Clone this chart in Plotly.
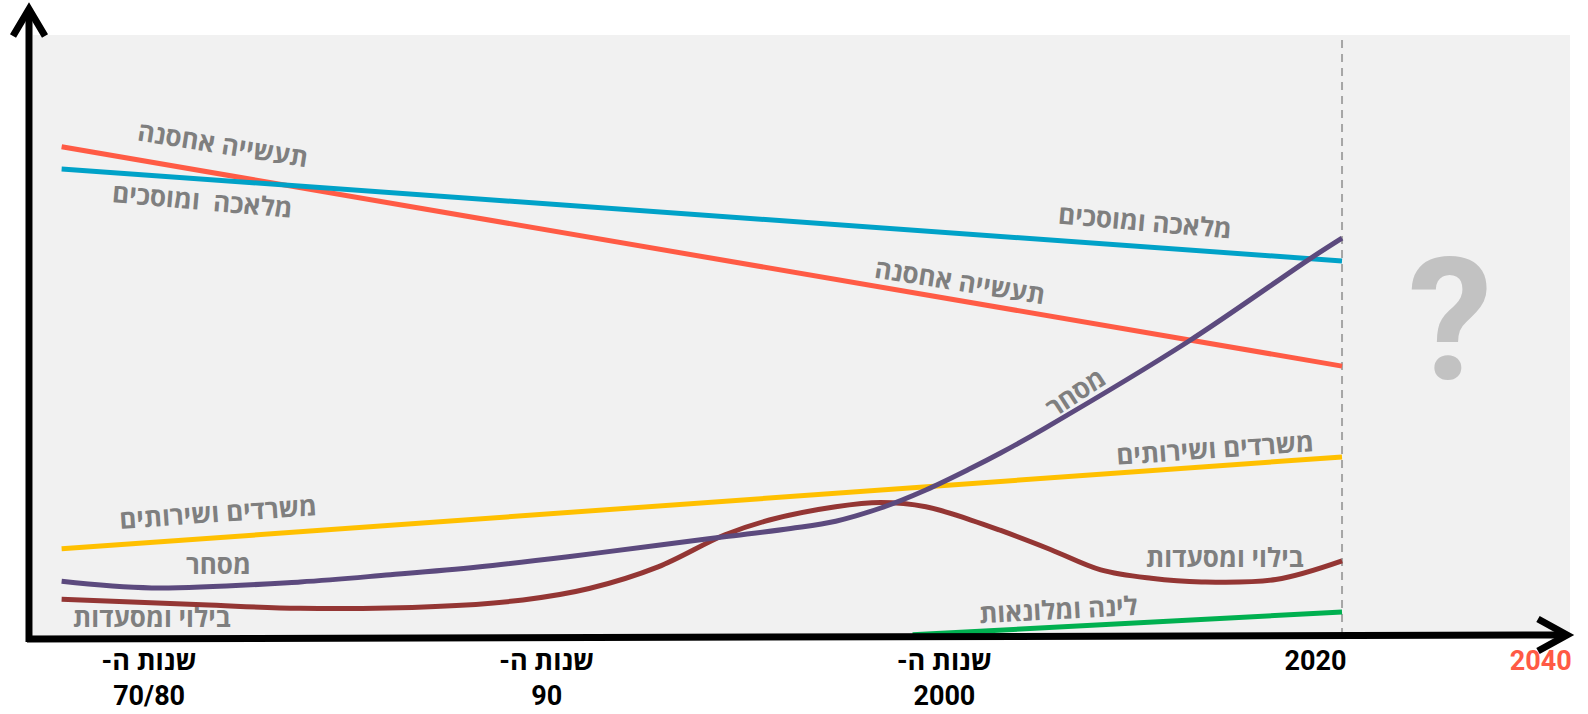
import plotly.graph_objects as go

# ---------------- data ----------------
RLM = "\u200f"
tick_years = [1975, 1990, 2005, 2019, 2027.5]
tick_labels = [f"שנות ה-{RLM}<br>70/80", f"שנות ה-{RLM}<br>90", f"שנות ה-{RLM}<br>2000", "2020",
               "<span style='color:#FF5A45'>2040</span>"]

red_years = [1971.7, 2020]
red_vals = [81.4, 44.9]          # תעשייה אחסנה

blue_years = [1971.7, 2020]
blue_vals = [77.7, 62.4]         # מלאכה ומוסכים

yellow_years = [1971.7, 2020]
yellow_vals = [14.5, 29.8]       # משרדים ושירותים

green_years = [2003.8, 2020]
green_vals = [0.2, 4.0]          # לינה ומלונאות

purple_years = [1971.7, 1975.1, 1980.7, 1984.1, 1987.4, 1990.8, 1994.2, 1996.7, 1999.2, 2000.9,
                2002.6, 2004.3, 2006.0, 2007.1, 2008.8, 2014.2, 2018.8, 2020.0]
purple_vals = [9.1, 8.0, 9.0, 10.2, 11.5, 13.2, 15.1, 16.5, 17.9, 19.1,
               21.3, 24.3, 27.9, 30.4, 34.6, 49.0, 62.8, 66.2]   # מסחר

maroon_years = [1971.7, 1977.0, 1980.7, 1985.8, 1989.1, 1991.6, 1994.2, 1996.7, 1998.4, 2000.9,
                2002.6, 2004.3, 2006.0, 2007.1, 2009.0, 2010.9, 2012.8, 2014.7, 2017.5, 2020.0]
maroon_vals = [6.1, 5.2, 4.6, 4.9, 6.0, 7.9, 11.5, 16.8, 19.3, 21.5,
               22.2, 21.5, 19.3, 17.6, 14.4, 11.0, 9.6, 9.0, 9.4, 12.5]   # בילוי ומסעדות

# labels: text, x(year), y(value), angle
label_texts = ["תעשייה אחסנה", "מלאכה  ומוסכים", "מלאכה ומוסכים", "תעשייה אחסנה", "מסחר",
               "משרדים ושירותים", "משרדים ושירותים", "מסחר", "בילוי ומסעדות",
               "בילוי ומסעדות", "לינה ומלונאות"]
label_x = [1977.8, 1977.0, 2012.55, 2005.6, 2009.95, 2015.2, 1977.6, 1977.6, 1975.1, 2015.6, 2009.3]
label_y = [81.9, 72.5, 69.1, 59.1, 40.6, 31.2, 20.7, 12.0, 3.2, 13.1, 4.5]
label_angle = [9, 5, 5, 9, -33, -4, -4, 0, 0, 0, -3]

# ---------------- figure ----------------
W, H = 1588, 714
ML, MR, MT, MB = 33, 18, 35, 78
PW, PH = W - ML - MR, H - MT - MB


def px(x):
    return (x - ML) / PW


def py(y):
    return (H - MB - y) / PH


fig = go.Figure()

series = [
    (red_years, red_vals, "#FF5B45", "linear"),
    (blue_years, blue_vals, "#00A2C8", "linear"),
    (yellow_years, yellow_vals, "#FFC000", "linear"),
    (green_years, green_vals, "#00B050", "linear"),
    (maroon_years, maroon_vals, "#943634", "spline"),
    (purple_years, purple_vals, "#5C4A7E", "spline"),
]
for xs, ys, col, shape in series:
    fig.add_trace(go.Scatter(x=xs, y=ys, mode="lines",
                             line=dict(color=col, width=5, shape=shape, smoothing=1),
                             hoverinfo="skip", showlegend=False))

shapes = []
# dashed 2020 line
shapes.append(dict(type="line", xref="x", yref="paper", x0=2020, x1=2020, y0=0, y1=1,
                   line=dict(color="#A6A6A6", width=2, dash="8px,6px"), layer="below"))
# y axis arrow
shapes.append(dict(type="line", xref="paper", yref="paper", x0=px(29), x1=px(29),
                   y0=py(642), y1=py(9), line=dict(color="black", width=7)))
shapes.append(dict(type="path", xref="paper", yref="paper",
                   path=f"M {px(13)} {py(36)} L {px(29)} {py(9)} L {px(45)} {py(36)}",
                   line=dict(color="black", width=7)))
# x axis arrow
shapes.append(dict(type="line", xref="paper", yref="paper", x0=px(27), x1=px(1567),
                   y0=py(639), y1=py(635), line=dict(color="black", width=7)))
shapes.append(dict(type="path", xref="paper", yref="paper",
                   path=f"M {px(1538)} {py(619)} L {px(1567)} {py(635)} L {px(1538)} {py(651)}",
                   line=dict(color="black", width=7)))

annotations = []
for t, x, y, a in zip(label_texts, label_x, label_y, label_angle):
    annotations.append(dict(x=x, y=y, xref="x", yref="y", text=f"<b>{t}</b>",
                            showarrow=False, textangle=a, xanchor="center", yanchor="middle",
                            font=dict(family="Open Sans, DejaVu Sans", size=26, color="#7F7F7F")))
annotations.append(dict(x=px(1450), y=py(321), xref="paper", yref="paper", text="<b>?</b>",
                        showarrow=False, xanchor="center", yanchor="middle",
                        font=dict(family="Roboto, Open Sans", size=170, color="#C2C2C2")))

fig.update_layout(
    width=W, height=H,
    margin=dict(l=ML, r=MR, t=MT, b=MB, pad=0, autoexpand=False),
    paper_bgcolor="white", plot_bgcolor="#F1F1F1",
    shapes=shapes, annotations=annotations,
    xaxis=dict(range=[1970.62, 2028.6], showgrid=False, zeroline=False, showline=False,
               automargin=False,
               tickmode="array", tickvals=tick_years, ticktext=[f"<b>{t}</b>" for t in tick_labels],
               ticks="", ticklabelstandoff=6,
               tickfont=dict(family="Roboto, Open Sans", size=27, color="black"),
               fixedrange=True),
    yaxis=dict(range=[0, 100], showgrid=False, zeroline=False, showline=False, automargin=False,
               showticklabels=False, ticks="", fixedrange=True),
)

fig.write_html("out.html")
